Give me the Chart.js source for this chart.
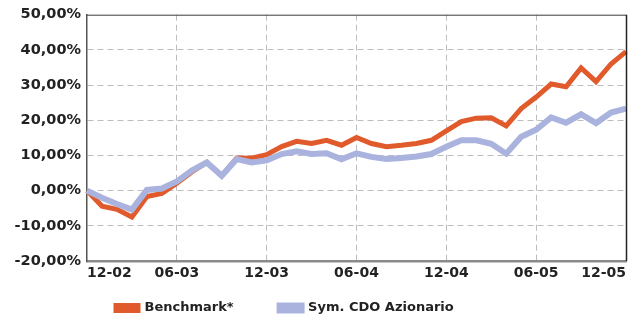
<!DOCTYPE html>
<html>
<head>
<meta charset="utf-8">
<script src="https://cdn.jsdelivr.net/npm/chart.js@4/dist/chart.umd.min.js"></script>
<style>
  html, body { margin: 0; padding: 0; background: #fff; }
  #wrap { width: 636px; height: 320px; }
</style>
</head>
<body>
<div id="wrap"><canvas id="c" width="636" height="320"></canvas></div>
<script>
// Monthly observations, Dec 2002 to Dec 2005
const months = [
  '12-02','01-03','02-03','03-03','04-03','05-03','06-03','07-03','08-03','09-03','10-03','11-03',
  '12-03','01-04','02-04','03-04','04-04','05-04','06-04','07-04','08-04','09-04','10-04','11-04',
  '12-04','01-05','02-05','03-05','04-05','05-05','06-05','07-05','08-05','09-05','10-05','11-05',
  '12-05'
];

// Cumulative performance, %
const benchmark = [
  0, -4.4, -5.3, -7.5, -1.7, -0.8, 2.1, 5.3, 8.0, 4.2, 9.3, 9.2,
  10.2, 12.5, 14.0, 13.4, 14.3, 12.9, 15.1, 13.4, 12.5, 12.9, 13.4, 14.3,
  17.0, 19.6, 20.6, 20.7, 18.4, 23.3, 26.6, 30.3, 29.5, 34.9, 31.0, 36.0,
  39.5
];
const symCdo = [
  0, -2.0, -3.8, -5.4, 0.2, 0.6, 2.6, 5.7, 8.0, 4.2, 9.0, 8.0,
  8.6, 10.4, 11.2, 10.4, 10.6, 8.9, 10.6, 9.6, 9.0, 9.3, 9.7, 10.4,
  12.5, 14.3, 14.3, 13.3, 10.5, 15.3, 17.3, 20.8, 19.3, 21.7, 19.2, 22.2,
  23.3
];

const seriesNames = ['Benchmark*', 'Sym. CDO Azionario'];
const yMin = -20, yMax = 50, yStep = 10;
const labelEvery = 6;

const FONT = '"DejaVu Sans", Verdana, sans-serif';
const TEXT = '#222';
const ORANGE = '#E05A2B';
const BLUE = '#AAB3DE';
const LEGEND_PAD = 46;

// Frame around the plot area (top and right edges)
const frame = {
  id: 'frame',
  afterDatasetsDraw(chart) {
    const { ctx, chartArea: a } = chart;
    ctx.save();
    ctx.strokeStyle = '#3a3a3a';
    ctx.lineWidth = 1;
    ctx.beginPath();
    ctx.moveTo(a.left, a.top + 0.5);
    ctx.lineTo(a.right, a.top + 0.5);
    ctx.stroke();
    ctx.lineWidth = 1.5;
    ctx.strokeStyle = '#222';
    ctx.beginPath();
    ctx.moveTo(a.right + 0.5, a.top);
    ctx.lineTo(a.right + 0.5, a.bottom);
    ctx.stroke();
    ctx.restore();
  }
};

// Place the legend row below the x axis labels
const legendPlace = {
  id: 'legendPlace',
  afterLayout(chart) {
    const lg = chart.legend;
    if (!lg) return;
    lg.top = 301.5 - LEGEND_PAD;
    lg.left = 116 - LEGEND_PAD;
  }
};

new Chart(document.getElementById('c'), {
  type: 'line',
  data: {
    labels: months,
    datasets: [
      {
        label: seriesNames[0],
        data: benchmark,
        borderColor: ORANGE,
        backgroundColor: ORANGE,
        borderWidth: 5,
        pointRadius: 0,
        tension: 0,
        order: 1
      },
      {
        label: seriesNames[1],
        data: symCdo,
        borderColor: BLUE,
        backgroundColor: BLUE,
        borderWidth: 6,
        pointRadius: 0,
        tension: 0,
        order: 0
      }
    ]
  },
  options: {
    responsive: false,
    animation: false,
    devicePixelRatio: 1,
    layout: { padding: { left: 0, right: 10, top: 9, bottom: 0 } },
    plugins: {
      tooltip: { enabled: false },
      legend: {
        position: 'bottom',
        align: 'start',
        maxHeight: 34,
        labels: {
          boxWidth: 22,
          boxHeight: 5,
          padding: LEGEND_PAD,
          color: TEXT,
          font: { family: FONT, size: 13, weight: 'bold' },
          sort: (a, b) => a.datasetIndex - b.datasetIndex
        }
      }
    },
    scales: {
      x: {
        type: 'category',
        offset: false,
        afterBuildTicks(axis) {
          axis.ticks = axis.ticks.filter(t => t.value % labelEvery === 0);
        },
        afterFit(axis) { axis.height = 25; },
        ticks: {
          autoSkip: false,
          maxRotation: 0,
          minRotation: 0,
          align: 'inner',
          padding: 4,
          color: TEXT,
          font: { family: FONT, size: 14, weight: 'bold' }
        },
        grid: {
          drawTicks: false,
          lineWidth: 1,
          color: ctx => (ctx.index === 0 || ctx.index === ctx.chart.scales.x.ticks.length - 1) ? 'rgba(0,0,0,0)' : '#bdbdbd'
        },
        border: { display: true, color: '#8a8a8a', width: 2.5, dash: [6, 4] }
      },
      y: {
        min: yMin,
        max: yMax,
        afterFit(axis) { axis.width = 87; },
        ticks: {
          stepSize: yStep,
          padding: 6,
          color: TEXT,
          font: { family: FONT, size: 14.5, weight: 'bold' },
          callback: v => v.toFixed(2).replace('.', ',') + '%'
        },
        grid: {
          drawTicks: false,
          lineWidth: 1,
          color: ctx => (ctx.tick && (ctx.tick.value === yMin || ctx.tick.value === yMax)) ? 'rgba(0,0,0,0)' : '#bdbdbd'
        },
        border: { display: true, color: '#555', width: 1.5, dash: [6, 4] }
      }
    }
  },
  plugins: [frame, legendPlace]
});
</script>
</body>
</html>
